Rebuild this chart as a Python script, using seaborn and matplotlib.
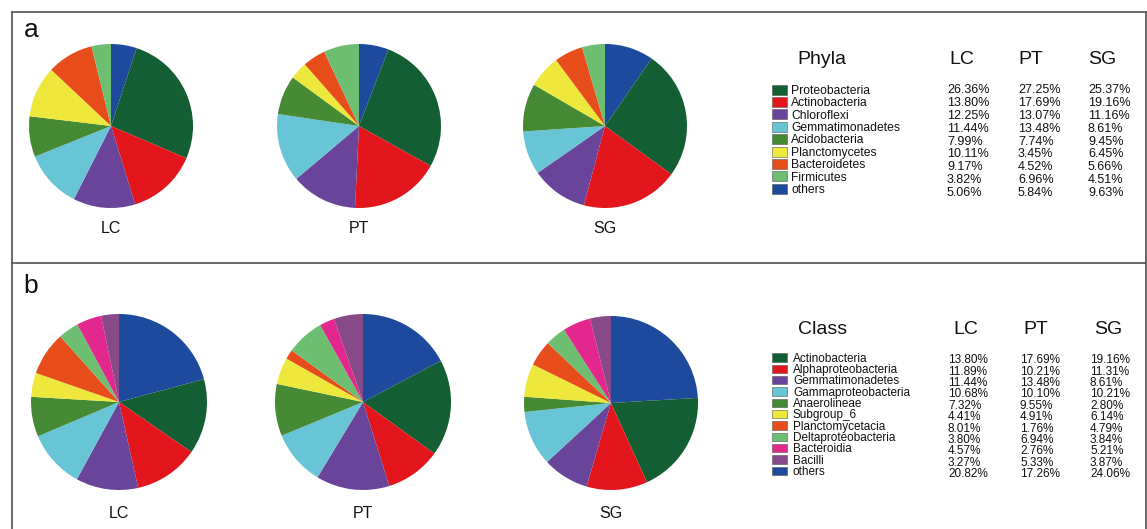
import matplotlib
matplotlib.use("Agg")
import matplotlib.pyplot as plt
from matplotlib.patches import Rectangle
from matplotlib.lines import Line2D
import seaborn as sns

# ---- data -------------------------------------------------------------
sites = ["LC", "PT", "SG"]

phyla = ["Proteobacteria", "Actinobacteria", "Chloroflexi", "Gemmatimonadetes",
         "Acidobacteria", "Planctomycetes", "Bacteroidetes", "Firmicutes", "others"]
phyla_lc = [26.36, 13.80, 12.25, 11.44, 7.99, 10.11, 9.17, 3.82, 5.06]
phyla_pt = [27.25, 17.69, 13.07, 13.48, 7.74, 3.45, 4.52, 6.96, 5.84]
phyla_sg = [25.37, 19.16, 11.16, 8.61, 9.45, 6.45, 5.66, 4.51, 9.63]

classes = ["Actinobacteria", "Alphaproteobacteria", "Gemmatimonadetes",
           "Gammaproteobacteria", "Anaerolineae", "Subgroup_6", "Planctomycetacia",
           "Deltaproteobacteria", "Bacteroidia", "Bacilli", "others"]
class_lc = [13.80, 11.89, 11.44, 10.68, 7.32, 4.41, 8.01, 3.80, 4.57, 3.27, 20.82]
class_pt = [17.69, 10.21, 13.48, 10.10, 9.55, 4.91, 1.76, 6.94, 2.76, 5.33, 17.26]
class_sg = [19.16, 11.31, 8.61, 10.21, 2.80, 6.14, 4.79, 3.84, 5.21, 3.87, 24.06]

phyla_colors = ["#135E32", "#E3161D", "#6A449A", "#68C5D5", "#468A36",
                "#EDE83B", "#E64D1B", "#6EBE72", "#1E4A9E"]
class_colors = ["#135E32", "#E3161D", "#6A449A", "#68C5D5", "#468A36",
                "#EDE83B", "#E64D1B", "#6EBE72", "#E2288C", "#874A87", "#1E4A9E"]

# ---- figure setup -----------------------------------------------------
sns.set_theme(style="white")
plt.rcParams["font.family"] = ["Liberation Sans", "DejaVu Sans"]

W, H = 1147, 529
fig = plt.figure(figsize=(W / 100, H / 100), dpi=100)
fig.patch.set_facecolor("white")
INK = "#111111"


def fx(x):
    return x / W


def fy(y):
    return 1 - y / H


def txt(x, y_mid, s, fs, ha="left"):
    # place text so that its capital letters are centred on y_mid (pixels)
    cap = 0.716 * fs * 100 / 72
    fig.text(fx(x), fy(y_mid + cap / 2), s, ha=ha, va="baseline", fontsize=fs,
             color=INK)


def draw_pie(values, palette, cx, cy, r, label, label_y):
    # "others" is the last entry; it is drawn first, from 12 o'clock clockwise
    vals = [values[-1]] + list(values[:-1])
    cols = [palette[-1]] + list(palette[:-1])
    ax = fig.add_axes([fx(cx - r), fy(cy + r), 2 * r / W, 2 * r / H])
    ax.pie(vals, colors=cols, startangle=90, counterclock=False, radius=1,
           wedgeprops=dict(linewidth=0, antialiased=True))
    ax.set_xlim(-1.0, 1.0)
    ax.set_ylim(-1.0, 1.0)
    ax.set_axis_off()
    txt(cx, label_y, label, 11.5, ha="center")


def draw_table(title, names, columns, palette, head_y, head_x, col_hx, col_vx,
               name_x, row0, row_step, val0, val_step, sw_h, fs_name, fs_val):
    txt(head_x, head_y, title, 14, ha="center")
    for hx, site in zip(col_hx, sites):
        txt(hx, head_y, site, 14, ha="center")
    for i, (name, col) in enumerate(zip(names, palette)):
        y = row0 + i * row_step
        fig.patches.append(Rectangle((fx(772), fy(y + sw_h / 2)), 15 / W, sw_h / H,
                                     transform=fig.transFigure, facecolor=col,
                                     edgecolor="#555555", linewidth=0.4))
        txt(name_x, y, name, fs_name)
    for vx, vals in zip(col_vx, columns):
        for i, v in enumerate(vals):
            txt(vx, val0 + i * val_step, f"{v:.2f}%", fs_val)


# ---- panel frames -----------------------------------------------------
frame = dict(color="#505050", linewidth=1.2, transform=fig.transFigure)
fig.lines.append(Line2D([fx(12), fx(1146)], [fy(12), fy(12)], **frame))
fig.lines.append(Line2D([fx(12), fx(1146)], [fy(263), fy(263)], **frame))
fig.lines.append(Line2D([fx(12), fx(12)], [fy(12), fy(529)], **frame))
fig.lines.append(Line2D([fx(1146), fx(1146)], [fy(12), fy(529)], **frame))

fig.text(fx(31), fy(37), "a", ha="center", va="baseline", fontsize=19, color=INK)
fig.text(fx(31), fy(293), "b", ha="center", va="baseline", fontsize=19, color=INK)

# ---- panel a: phyla ---------------------------------------------------
pal_a = sns.color_palette(phyla_colors)
draw_pie(phyla_lc, pal_a, 111, 126, 82, "LC", 227.5)
draw_pie(phyla_pt, pal_a, 359, 126, 82, "PT", 227.5)
draw_pie(phyla_sg, pal_a, 605, 126, 82, "SG", 227.5)

draw_table("Phyla", phyla, [phyla_lc, phyla_pt, phyla_sg], pal_a,
           head_y=57, head_x=822, col_hx=[962, 1031, 1102],
           col_vx=[947, 1018, 1088], name_x=791,
           row0=89.5, row_step=12.4, val0=89, val_step=12.8, sw_h=10,
           fs_name=8.7, fs_val=9)

# ---- panel b: classes -------------------------------------------------
pal_b = sns.color_palette(class_colors)
draw_pie(class_lc, pal_b, 119, 402, 88, "LC", 512)
draw_pie(class_pt, pal_b, 363, 402, 88, "PT", 512)
draw_pie(class_sg, pal_b, 611, 403, 87, "SG", 512)

draw_table("Class", classes, [class_lc, class_pt, class_sg], pal_b,
           head_y=327, head_x=823, col_hx=[966, 1036, 1108],
           col_vx=[948, 1020, 1090], name_x=793,
           row0=357.5, row_step=11.34, val0=359, val_step=11.4, sw_h=8.5,
           fs_name=8.5, fs_val=8.5)

fig.savefig("out.png", dpi=100, facecolor="white")
